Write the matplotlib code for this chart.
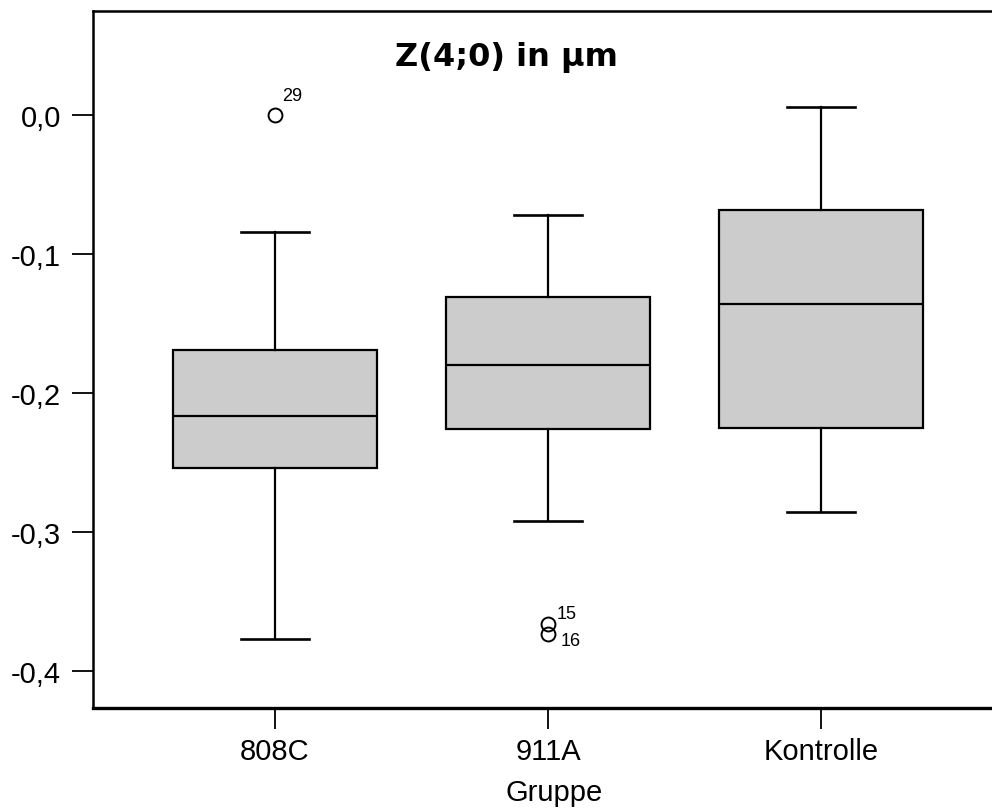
#!/usr/bin/env python
# -*- coding: utf-8 -*-
import matplotlib
matplotlib.use('Agg')
import matplotlib.pyplot as plt
from matplotlib.ticker import FuncFormatter

plt.rcParams['font.family'] = ['Liberation Sans', 'DejaVu Sans']

# Kennwerte je Gruppe (Z(4;0) in µm)
gruppen = ['808C', '911A', 'Kontrolle']
whisker_hi = [-0.084, -0.072, 0.006]
q3 = [-0.169, -0.131, -0.068]
median = [-0.216, -0.180, -0.136]
q1 = [-0.254, -0.226, -0.225]
whisker_lo = [-0.377, -0.292, -0.285]

# Ausreißer: Gruppe, Wert, Fallnummer
ausreisser_gruppe = ['808C', '911A', '911A']
ausreisser_wert = [0.000, -0.366, -0.373]
ausreisser_fall = ['29', '15', '16']
ausreisser_offset = [(5, 14), (6, 8), (9, -5)]

stats = []
for i, name in enumerate(gruppen):
    fliers = [w for g, w in zip(ausreisser_gruppe, ausreisser_wert) if g == name]
    stats.append({'label': name, 'med': median[i], 'q1': q1[i], 'q3': q3[i],
                  'whislo': whisker_lo[i], 'whishi': whisker_hi[i], 'fliers': fliers})

fig = plt.figure(figsize=(9.92, 8.12), dpi=100)
ax = fig.add_axes([93 / 992, 1 - 708.5 / 812, 1 - 93 / 992, (708.5 - 12) / 812])

pos = [1, 2, 3]
lw = 1.6
ax.bxp(stats, positions=pos, widths=0.75, capwidths=0.25, patch_artist=True,
       boxprops=dict(facecolor='#cccccc', edgecolor='black', linewidth=lw),
       medianprops=dict(color='black', linewidth=lw),
       whiskerprops=dict(color='black', linewidth=lw),
       capprops=dict(color='black', linewidth=lw + 0.3),
       flierprops=dict(marker='o', markersize=10, markerfacecolor='none',
                       markeredgecolor='black', markeredgewidth=1.4))

for g, w, fall, off in zip(ausreisser_gruppe, ausreisser_wert, ausreisser_fall, ausreisser_offset):
    ax.annotate(fall, (pos[gruppen.index(g)], w), xytext=off, textcoords='offset points',
                fontsize=13, ha='left', va='center')

ax.set_xlim(1 / 3, 3 + 171 / 273)
ax.set_ylim(-0.4259, 0.0748)
ax.set_yticks([0.0, -0.1, -0.2, -0.3, -0.4])
ax.yaxis.set_major_formatter(FuncFormatter(lambda v, p: f'{v:.1f}'.replace('.', ',').replace('-0,0', '0,0')))
ax.set_xticks(pos)
ax.set_xticklabels(gruppen)

ax.spines['right'].set_visible(False)
for s in ['left', 'top']:
    ax.spines[s].set_linewidth(1.8)
ax.spines['bottom'].set_linewidth(2.4)
ax.tick_params(direction='out', length=15, width=1.3, labelsize=21, color='black')
ax.tick_params(axis='y', pad=8)
ax.tick_params(axis='x', pad=6)

ax.set_xlabel('Gruppe', fontsize=21, va='center')
ax.xaxis.set_label_coords(0.513, -0.122)
ax.text(0.46, 0.935, 'Z(4;0) in µm', transform=ax.transAxes, ha='center', va='center',
        fontsize=23, fontweight='bold', family='DejaVu Sans')

fig.savefig('out.png', dpi=100)
